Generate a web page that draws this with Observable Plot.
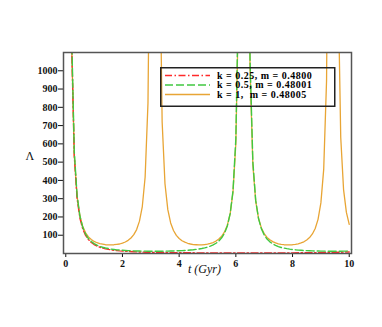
<!DOCTYPE html>
<html><head><meta charset="utf-8">
<script src="https://cdn.jsdelivr.net/npm/d3@7"></script>
<script src="https://cdn.jsdelivr.net/npm/@observablehq/plot@0.6"></script>
<style>
body{margin:0;background:#fff;}
#wrap{position:relative;width:382px;height:327px;}
#legend{position:absolute;left:160px;top:67px;}
</style>
</head><body>
<div id="wrap"><div id="legend"></div></div>
<script>
// Shared time grid (Gyr) for the k = 0.5 and k = 1 curves
const tGrid = [0.1,0.2,0.3,0.4,0.5,0.6,0.7,0.8,0.9,1.0,1.1,1.2,1.3,1.4,1.5,1.6,1.7,1.8,1.9,2.0,
  2.1,2.2,2.3,2.4,2.5,2.6,2.7,2.8,2.9,3.0,3.1,3.2,3.3,3.4,3.5,3.6,3.7,3.8,3.9,4.0,
  4.1,4.2,4.3,4.4,4.5,4.6,4.7,4.8,4.9,5.0,5.1,5.2,5.3,5.4,5.5,5.6,5.7,5.8,5.9,6.0,
  6.1,6.2,6.3,6.4,6.5,6.6,6.7,6.8,6.9,7.0,7.1,7.2,7.3,7.4,7.5,7.6,7.7,7.8,7.9,8.0,
  8.1,8.2,8.3,8.4,8.5,8.6,8.7,8.8,8.9,9.0,9.1,9.2,9.3,9.4,9.5,9.6,9.7,9.8,9.9,10.0];

// k = 1, m = 0.48005 (orange)
const lamOrange = [3000,1190,538,310,205,147,113,91,77,66,
  59,54,51,48,47,47,48,50,52,57,
  63,72,85,103,131,177,257,419,822,2362,
  3000,3000,1888,720,382,240,167,126,99,82,
  70,62,56,52,49,48,47,47,49,51,
  55,60,68,79,94,118,155,218,336,602,
  1416,3000,3000,3000,1015,485,287,193,140,109,
  88,75,65,58,53,50,48,47,47,48,
  50,53,58,64,74,87,107,137,187,277,
  462,946,3000,3000,3000,1546,636,350,225,159];

// k = 0.5, m = 0.48001 (green)
const lamGreen = [3000,1254,559,317,204,143,106,82,66,54,
  46,39,34,30,27,24,22,20,19,17.7,
  16.6,15.7,15.0,14.4,13.9,13.5,13.1,12.9,12.7,12.6,
  12.5,12.5,12.6,12.7,12.9,13.2,13.5,14.0,14.5,15.1,
  15.9,16.8,17.8,19.1,20.6,22.5,24.7,27.4,30.7,34.9,
  40.2,47,56,68,86,111,151,218,344,628,
  1497,3000,3000,3000,1068,502,292,191,136,102,
  79,64,53,45,38,33,29.5,26.4,23.9,21.8,
  20.1,18.7,17.5,16.5,15.6,14.9,14.3,13.8,13.4,13.1,
  12.8,12.7,12.5,12.5,12.5,12.6,12.7,12.9,13.2,13.6];

// k = 0.25, m = 0.4800 (red)
const tRed = [0.1,0.2,0.3,0.4,0.5,0.6,0.7,0.8,0.9,1.0,1.1,1.2,1.3,1.4,1.5,1.6,1.7,1.8,1.9,2.0,
  2.2,2.4,2.6,2.8,3.0,3.2,3.4,3.6,3.8,4.0,4.4,4.8,5.2,5.6,6.0,6.4,6.8,7.2,7.6,8.0,8.4,8.8,9.2,9.6,10.0];
const lamRed = [3000,1200,534,301,193,134,99,76,60,49,40.7,34.4,29.4,25.5,22.4,19.8,17.6,15.9,14.3,13.1,
  11.0,9.4,8.2,7.2,6.5,5.8,5.3,4.9,4.5,4.2,3.8,3.5,3.2,3.1,3.0,3.0,3.05,3.2,3.35,3.6,4.0,4.6,5.4,6.6,8.4];

const seriesLabels = ["k = 0.25, m = 0.4800", "k = 0.5, m = 0.48001", "k = 1,  m = 0.48005"];
const seriesColors = ["#ff2a2a", "#40c840", "#e8a535"];
const seriesDash = ["7,2.5,1.5,2.5", "8,3", null];

const xTicks = [0, 2, 4, 6, 8, 10];
const yTicks = [100, 200, 300, 400, 500, 600, 700, 800, 900, 1000];
const xLabel = "t (Gyr)";
const yLabel = "Λ";

const chart = Plot.plot({
  width: 382, height: 327,
  marginLeft: 63, marginRight: 31, marginTop: 52, marginBottom: 74,
  style: {fontFamily: "'Liberation Serif', serif", fontSize: "10px", fontWeight: "bold", background: "white", color: "#111"},
  x: {domain: [-0.08, 10.08], ticks: xTicks, tickFormat: d3.format("d"), tickSize: 4, tickPadding: 2, label: null},
  y: {domain: [0, 1100], ticks: yTicks, tickFormat: d3.format("d"), tickSize: 5, tickPadding: 1, label: null},
  marks: [
    Plot.line(lamOrange, {x: tGrid, y: lamOrange, stroke: seriesColors[2], strokeWidth: 1.3, clip: true}),
    Plot.line(lamRed, {x: tRed, y: lamRed, stroke: seriesColors[0], strokeWidth: 1.4, strokeDasharray: seriesDash[0], clip: true}),
    Plot.line(lamGreen, {x: tGrid, y: lamGreen, stroke: seriesColors[1], strokeWidth: 1.4, strokeDasharray: seriesDash[1], clip: true}),
    Plot.frame({stroke: "#555", strokeWidth: 1.5}),
    Plot.text([xLabel], {text: d => d, frameAnchor: "bottom", dy: 19, dx: -3, fontStyle: "italic", fontWeight: "normal", fontSize: 12}),
    Plot.text([yLabel], {text: d => d, frameAnchor: "left", dx: -38, dy: 3, fontWeight: "normal", fontSize: 12})
  ]
});
document.getElementById("wrap").prepend(chart);

// Legend drawn over the plot area
const ns = "http://www.w3.org/2000/svg";
const lg = document.createElementNS(ns, "svg");
lg.setAttribute("width", 176); lg.setAttribute("height", 40);
const box = document.createElementNS(ns, "rect");
box.setAttribute("x", 0.75); box.setAttribute("y", 0.75); box.setAttribute("width", 174); box.setAttribute("height", 38.5);
box.setAttribute("fill", "none"); box.setAttribute("stroke", "#222"); box.setAttribute("stroke-width", 1.5);
lg.appendChild(box);
seriesLabels.forEach((lab, i) => {
  const cy = 8.5 + i * 9.5;
  const ln = document.createElementNS(ns, "line");
  ln.setAttribute("x1", 5); ln.setAttribute("x2", 50); ln.setAttribute("y1", cy); ln.setAttribute("y2", cy);
  ln.setAttribute("stroke", seriesColors[i]); ln.setAttribute("stroke-width", 1.3);
  if (seriesDash[i]) ln.setAttribute("stroke-dasharray", seriesDash[i]);
  lg.appendChild(ln);
  const tx = document.createElementNS(ns, "text");
  tx.setAttribute("x", 57); tx.setAttribute("y", cy + 3.3);
  tx.setAttribute("font-family", "'Liberation Serif', serif");
  tx.setAttribute("font-size", 10); tx.setAttribute("font-weight", "bold");
  tx.setAttribute("letter-spacing", 0.5);
  tx.setAttribute("style", "white-space:pre");
  tx.textContent = lab;
  lg.appendChild(tx);
});
document.getElementById("legend").appendChild(lg);
</script>
</body></html>
